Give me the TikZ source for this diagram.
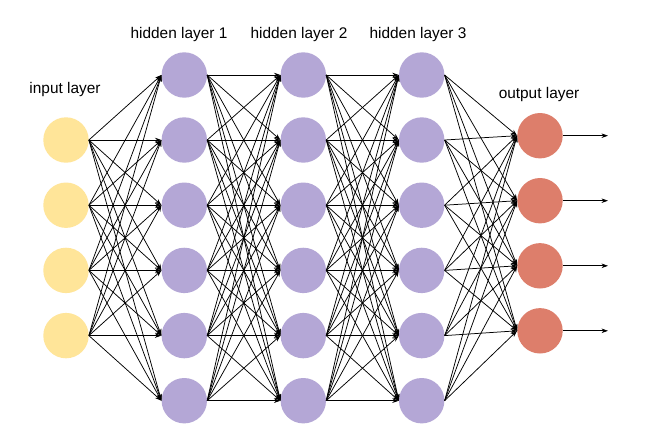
\documentclass[tikz,border=0pt]{standalone}
\usepackage{fontspec}
\setmainfont{Liberation Sans}
\usetikzlibrary{arrows.meta}
\definecolor{inyel}{HTML}{FFE599}
\definecolor{hidpur}{HTML}{B4A7D6}
\definecolor{outred}{HTML}{DD7E6B}
\begin{document}
\begin{tikzpicture}[x=1pt,y=-1pt,
  neuron/.style={circle,inner sep=0pt,minimum size=45.4pt,draw=none},
  innode/.style={neuron,fill=inyel},
  hidnode/.style={neuron,fill=hidpur},
  outnode/.style={neuron,fill=outred},
  conn/.style={line width=0.75pt,-{Stealth[length=6.5pt,width=4.5pt]}},
  lbl/.style={font=\fontsize{15.4}{18}\selectfont,inner sep=0pt}]
\fill[white] (0,0) rectangle (654,440);
\useasboundingbox (0,0) rectangle (654,440);
% input layer
\foreach \i/\y in {1/140,2/205.2,3/270.4,4/335.6}
  \node[innode] (i\i) at (66,\y) {};
% hidden layers
\foreach \l/\x in {1/184.3,2/303.3,3/421.7}
  \foreach \i/\y in {1/75,2/140,3/205.2,4/270.4,5/335.6,6/400.7}
    \node[hidnode] (h\l\i) at (\x,\y) {};
% output layer
\foreach \i/\y in {1/135.7,2/200.7,3/265.8,4/330.8}
  \node[outnode] (o\i) at (540,\y) {};
% labels
\node[lbl] (lin) at (65,90) {input layer};
\node[lbl] (lh1) at (179,35) {hidden layer 1};
\node[lbl] (lh2) at (299,35) {hidden layer 2};
\node[lbl] (lh3) at (418,35) {hidden layer 3};
\node[lbl] (lout) at (539,95) {output layer};
% connections
\foreach \a in {1,...,4}
  \foreach \b in {1,...,6}
    \draw[conn] (i\a.east) -- (h1\b.west);
\foreach \a in {1,...,6}
  \foreach \b in {1,...,6}
    \draw[conn] (h1\a.east) -- (h2\b.west);
\foreach \a in {1,...,6}
  \foreach \b in {1,...,6}
    \draw[conn] (h2\a.east) -- (h3\b.west);
\foreach \a in {1,...,6}
  \foreach \b in {1,...,4}
    \draw[conn] (h3\a.east) -- (o\b.west);
% outputs
\foreach \i/\y in {1/135.7,2/200.7,3/265.8,4/330.8}{
  \coordinate (e\i) at (608,\y);
  \draw[conn] (o\i.east) -- (e\i);
}
\end{tikzpicture}
\end{document}
